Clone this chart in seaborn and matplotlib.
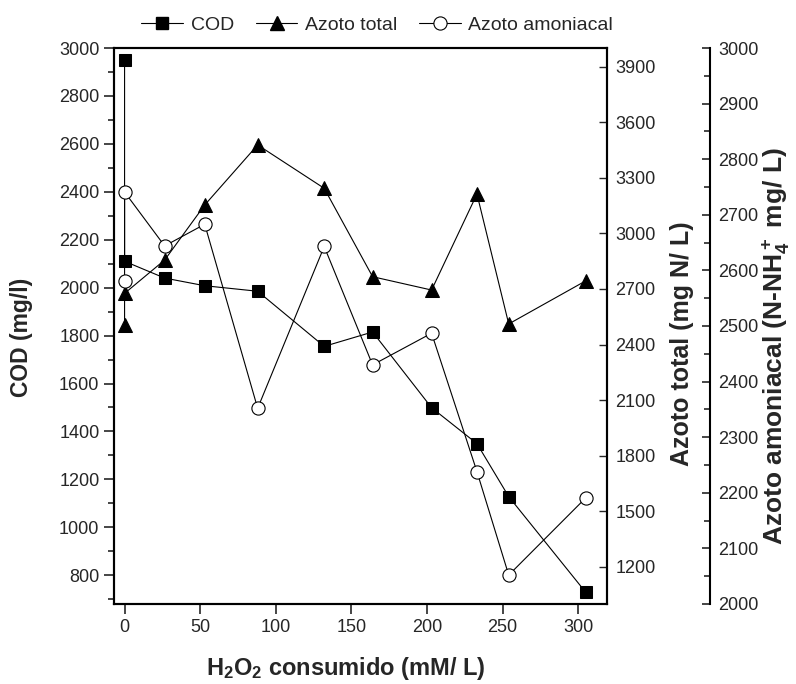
import numpy as np
import pandas as pd
import matplotlib
matplotlib.use("Agg")
import matplotlib.pyplot as plt
from matplotlib.ticker import MultipleLocator
import seaborn as sns

# Data
h2o2_cod = [0, 0, 26.5, 53, 88, 132, 164, 203, 233, 254, 305]
cod = [2950, 2110, 2040, 2008, 1985, 1755, 1815, 1499, 1349, 1128, 728]

h2o2_nt = [0, 0, 26.5, 53, 88, 132, 164, 203, 233, 254, 305]
azoto_total = [2505, 2676, 2856, 3153, 3477, 3243, 2766, 2694, 3212, 2511, 2744]

h2o2_nh = [0, 0, 26.5, 53, 88, 132, 164, 203, 233, 254, 305]
azoto_amon = [2581, 2741, 2644, 2683, 2352, 2643, 2430, 2487, 2238, 2052, 2191]

sns.set_theme(style="ticks")
plt.rcParams['font.family'] = ['Liberation Sans', 'DejaVu Sans']
plt.rcParams['mathtext.fontset'] = 'custom'
plt.rcParams['mathtext.rm'] = 'Liberation Sans'
plt.rcParams['mathtext.bf'] = 'Liberation Sans:bold'

fig = plt.figure(figsize=(7.96, 6.84), dpi=100)
ax = fig.add_axes([0.1432, 0.117, 0.6194, 0.8128])
ax2 = ax.twinx()
ax3 = ax.twinx()
ax3.spines['right'].set_position(('axes', 1.209))

kw = dict(color='black', linewidth=0.8, sort=False, estimator=None, legend=False)
sns.lineplot(x=h2o2_cod, y=cod, ax=ax, marker='s', markersize=8.5,
             markerfacecolor='black', markeredgecolor='black', **kw)
sns.lineplot(x=h2o2_nt, y=azoto_total, ax=ax2, marker='^', markersize=10,
             markerfacecolor='black', markeredgecolor='black', **kw)
sns.lineplot(x=h2o2_nh, y=azoto_amon, ax=ax3, marker='o', markersize=9.5,
             markerfacecolor='white', markeredgecolor='black',
             markeredgewidth=0.8, **kw)

ax.set_xlim(-7, 319)
ax.set_ylim(680, 3000)
ax2.set_ylim(1000, 4000)
ax3.set_ylim(2000, 3000)

ax.xaxis.set_major_locator(MultipleLocator(50))
ax.yaxis.set_major_locator(MultipleLocator(200))
ax.yaxis.set_minor_locator(MultipleLocator(100))
ax2.yaxis.set_major_locator(MultipleLocator(300))
ax3.yaxis.set_major_locator(MultipleLocator(100))
ax3.yaxis.set_minor_locator(MultipleLocator(50))

for a in (ax, ax2, ax3):
    for s in a.spines.values():
        s.set_linewidth(1.5)
        s.set_color('black')
ax3.spines['left'].set_visible(False)
ax3.spines['top'].set_visible(False)
ax3.spines['bottom'].set_visible(False)

ax.tick_params(axis='x', direction='out', length=7, width=1.2, labelsize=13, top=False)
ax.tick_params(axis='y', which='major', direction='out', length=7, width=1.2, labelsize=13, right=False)
ax.tick_params(axis='y', which='minor', direction='out', length=4.5, width=1.2, right=False)
ax2.tick_params(axis='y', which='major', direction='in', length=6, width=1.0, labelsize=13, pad=6)
ax3.tick_params(axis='y', which='major', direction='in', length=6, width=1.2, labelsize=13, pad=6)
ax3.tick_params(axis='y', which='minor', direction='in', length=4, width=1.2)

ax.set_xlabel(r'$\mathbf{H_2O_2}$ consumido (mM/ L)', fontsize=17, fontweight='bold')
ax.set_ylabel('COD (mg/l)', fontsize=16.5, fontweight='bold')
ax2.set_ylabel('Azoto total (mg N/ L)', fontsize=18, fontweight='bold')
ax3.set_ylabel(r'Azoto amoniacal (N-$\mathbf{NH_4^+}$ mg/ L)', fontsize=19, fontweight='bold')
ax.xaxis.set_label_coords(0.47, -0.092)
ax.yaxis.set_label_coords(-0.164, 0.48)
ax2.yaxis.set_label_coords(1.128, 0.469)
ax3.yaxis.set_label_coords(1.312, 0.464)

handles = [
    plt.Line2D([], [], color='black', lw=0.8, marker='s', markersize=8.5),
    plt.Line2D([], [], color='black', lw=0.8, marker='^', markersize=10),
    plt.Line2D([], [], color='black', lw=0.8, marker='o', markersize=9.5,
               markerfacecolor='white', markeredgewidth=0.8),
]
fig.legend(handles, ['COD', 'Azoto total', 'Azoto amoniacal'], loc='center',
           bbox_to_anchor=(0.474, 0.963), ncol=3, frameon=False, fontsize=14,
           handlelength=2.15, handletextpad=0.4, columnspacing=1.1)

fig.savefig('out.png', dpi=100)
